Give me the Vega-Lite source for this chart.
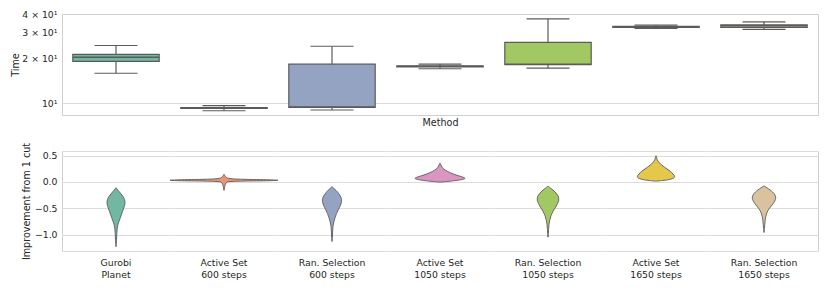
{
  "$schema": "https://vega.github.io/schema/vega-lite/v6.json",
  "padding": {"left": 10, "top": 9, "right": 5, "bottom": 5},
  "config": {
    "font": "DejaVu Sans",
    "view": {"stroke": null},
    "axis": {"labelFont": "DejaVu Sans", "titleFont": "DejaVu Sans", "labelFontSize": 9.3, "titleFontSize": 9.6, "labelColor": "#262626", "titleColor": "#262626", "titleFontWeight": "normal", "ticks": false, "gridColor": "#dcdcdc", "domainColor": "#d0d0d0"},
    "header": {"labelFont": "DejaVu Sans", "labelFontSize": 9.3, "labelColor": "#262626"}
  },
  "datasets": {
    "boxes": [
      {"method": "Gurobi\nPlanet", "lo": 15.9, "q1": 19.1, "med": 20.4, "q3": 21.3, "hi": 24.5},
      {"method": "Active Set\n600 steps", "lo": 8.87, "q1": 9.19, "med": 9.25, "q3": 9.32, "hi": 9.59},
      {"method": "Ran. Selection\n600 steps", "lo": 8.97, "q1": 9.35, "med": 9.4, "q3": 18.3, "hi": 24.2},
      {"method": "Active Set\n1050 steps", "lo": 17.05, "q1": 17.56, "med": 17.7, "q3": 17.84, "hi": 18.35},
      {"method": "Ran. Selection\n1050 steps", "lo": 17.2, "q1": 18.2, "med": 18.3, "q3": 25.7, "hi": 37.1},
      {"method": "Active Set\n1650 steps", "lo": 31.97, "q1": 32.5, "med": 32.8, "q3": 33.04, "hi": 33.65},
      {"method": "Ran. Selection\n1650 steps", "lo": 31.5, "q1": 32.5, "med": 33.3, "q3": 33.8, "hi": 35.4}
    ],
    "violins": [
      {"method": "Gurobi\nPlanet", "v": -1.23, "w": 0},
      {"method": "Gurobi\nPlanet", "v": -1.10, "w": 0.5},
      {"method": "Gurobi\nPlanet", "v": -0.98, "w": 0.8},
      {"method": "Gurobi\nPlanet", "v": -0.88, "w": 1.2},
      {"method": "Gurobi\nPlanet", "v": -0.80, "w": 2},
      {"method": "Gurobi\nPlanet", "v": -0.72, "w": 3.5},
      {"method": "Gurobi\nPlanet", "v": -0.64, "w": 5},
      {"method": "Gurobi\nPlanet", "v": -0.56, "w": 6.5},
      {"method": "Gurobi\nPlanet", "v": -0.48, "w": 8},
      {"method": "Gurobi\nPlanet", "v": -0.41, "w": 9},
      {"method": "Gurobi\nPlanet", "v": -0.33, "w": 8.5},
      {"method": "Gurobi\nPlanet", "v": -0.25, "w": 6},
      {"method": "Gurobi\nPlanet", "v": -0.18, "w": 3},
      {"method": "Gurobi\nPlanet", "v": -0.11, "w": 0},

      {"method": "Active Set\n600 steps", "v": -0.16, "w": 0},
      {"method": "Active Set\n600 steps", "v": -0.09, "w": 0.75},
      {"method": "Active Set\n600 steps", "v": -0.05, "w": 1.25},
      {"method": "Active Set\n600 steps", "v": -0.02, "w": 2},
      {"method": "Active Set\n600 steps", "v": 0.0, "w": 3.5},
      {"method": "Active Set\n600 steps", "v": 0.008, "w": 7},
      {"method": "Active Set\n600 steps", "v": 0.016, "w": 20},
      {"method": "Active Set\n600 steps", "v": 0.024, "w": 45},
      {"method": "Active Set\n600 steps", "v": 0.032, "w": 54},
      {"method": "Active Set\n600 steps", "v": 0.04, "w": 45},
      {"method": "Active Set\n600 steps", "v": 0.05, "w": 20},
      {"method": "Active Set\n600 steps", "v": 0.06, "w": 8},
      {"method": "Active Set\n600 steps", "v": 0.07, "w": 4.5},
      {"method": "Active Set\n600 steps", "v": 0.085, "w": 2.5},
      {"method": "Active Set\n600 steps", "v": 0.10, "w": 1.5},
      {"method": "Active Set\n600 steps", "v": 0.12, "w": 0.75},
      {"method": "Active Set\n600 steps", "v": 0.145, "w": 0},

      {"method": "Ran. Selection\n600 steps", "v": -1.13, "w": 0},
      {"method": "Ran. Selection\n600 steps", "v": -1.05, "w": 0.4},
      {"method": "Ran. Selection\n600 steps", "v": -0.95, "w": 0.6},
      {"method": "Ran. Selection\n600 steps", "v": -0.84, "w": 1},
      {"method": "Ran. Selection\n600 steps", "v": -0.76, "w": 1.8},
      {"method": "Ran. Selection\n600 steps", "v": -0.68, "w": 3},
      {"method": "Ran. Selection\n600 steps", "v": -0.60, "w": 4.5},
      {"method": "Ran. Selection\n600 steps", "v": -0.52, "w": 6.5},
      {"method": "Ran. Selection\n600 steps", "v": -0.44, "w": 8.5},
      {"method": "Ran. Selection\n600 steps", "v": -0.37, "w": 9.5},
      {"method": "Ran. Selection\n600 steps", "v": -0.31, "w": 9.3},
      {"method": "Ran. Selection\n600 steps", "v": -0.24, "w": 7.5},
      {"method": "Ran. Selection\n600 steps", "v": -0.16, "w": 4},
      {"method": "Ran. Selection\n600 steps", "v": -0.09, "w": 0},

      {"method": "Active Set\n1050 steps", "v": -0.005, "w": 0},
      {"method": "Active Set\n1050 steps", "v": 0.01, "w": 8},
      {"method": "Active Set\n1050 steps", "v": 0.03, "w": 17},
      {"method": "Active Set\n1050 steps", "v": 0.05, "w": 23},
      {"method": "Active Set\n1050 steps", "v": 0.07, "w": 25},
      {"method": "Active Set\n1050 steps", "v": 0.09, "w": 23},
      {"method": "Active Set\n1050 steps", "v": 0.12, "w": 18},
      {"method": "Active Set\n1050 steps", "v": 0.16, "w": 12},
      {"method": "Active Set\n1050 steps", "v": 0.20, "w": 7.5},
      {"method": "Active Set\n1050 steps", "v": 0.24, "w": 4},
      {"method": "Active Set\n1050 steps", "v": 0.28, "w": 2},
      {"method": "Active Set\n1050 steps", "v": 0.32, "w": 1},
      {"method": "Active Set\n1050 steps", "v": 0.36, "w": 0},

      {"method": "Ran. Selection\n1050 steps", "v": -1.05, "w": 0},
      {"method": "Ran. Selection\n1050 steps", "v": -0.98, "w": 0.4},
      {"method": "Ran. Selection\n1050 steps", "v": -0.90, "w": 0.6},
      {"method": "Ran. Selection\n1050 steps", "v": -0.80, "w": 1},
      {"method": "Ran. Selection\n1050 steps", "v": -0.72, "w": 1.8},
      {"method": "Ran. Selection\n1050 steps", "v": -0.64, "w": 3},
      {"method": "Ran. Selection\n1050 steps", "v": -0.56, "w": 5},
      {"method": "Ran. Selection\n1050 steps", "v": -0.48, "w": 7.5},
      {"method": "Ran. Selection\n1050 steps", "v": -0.41, "w": 9.5},
      {"method": "Ran. Selection\n1050 steps", "v": -0.345, "w": 10.7},
      {"method": "Ran. Selection\n1050 steps", "v": -0.28, "w": 10.3},
      {"method": "Ran. Selection\n1050 steps", "v": -0.21, "w": 8},
      {"method": "Ran. Selection\n1050 steps", "v": -0.14, "w": 4},
      {"method": "Ran. Selection\n1050 steps", "v": -0.08, "w": 0},

      {"method": "Active Set\n1650 steps", "v": 0.015, "w": 0},
      {"method": "Active Set\n1650 steps", "v": 0.03, "w": 8},
      {"method": "Active Set\n1650 steps", "v": 0.05, "w": 14},
      {"method": "Active Set\n1650 steps", "v": 0.08, "w": 18},
      {"method": "Active Set\n1650 steps", "v": 0.11, "w": 18.7},
      {"method": "Active Set\n1650 steps", "v": 0.14, "w": 17.5},
      {"method": "Active Set\n1650 steps", "v": 0.18, "w": 15.5},
      {"method": "Active Set\n1650 steps", "v": 0.22, "w": 13},
      {"method": "Active Set\n1650 steps", "v": 0.26, "w": 10},
      {"method": "Active Set\n1650 steps", "v": 0.30, "w": 7},
      {"method": "Active Set\n1650 steps", "v": 0.34, "w": 4.5},
      {"method": "Active Set\n1650 steps", "v": 0.38, "w": 2.5},
      {"method": "Active Set\n1650 steps", "v": 0.42, "w": 1.2},
      {"method": "Active Set\n1650 steps", "v": 0.46, "w": 0.6},
      {"method": "Active Set\n1650 steps", "v": 0.50, "w": 0},

      {"method": "Ran. Selection\n1650 steps", "v": -0.96, "w": 0},
      {"method": "Ran. Selection\n1650 steps", "v": -0.88, "w": 0.5},
      {"method": "Ran. Selection\n1650 steps", "v": -0.80, "w": 0.8},
      {"method": "Ran. Selection\n1650 steps", "v": -0.72, "w": 1.2},
      {"method": "Ran. Selection\n1650 steps", "v": -0.65, "w": 1.8},
      {"method": "Ran. Selection\n1650 steps", "v": -0.58, "w": 3},
      {"method": "Ran. Selection\n1650 steps", "v": -0.51, "w": 5},
      {"method": "Ran. Selection\n1650 steps", "v": -0.44, "w": 8},
      {"method": "Ran. Selection\n1650 steps", "v": -0.37, "w": 10.5},
      {"method": "Ran. Selection\n1650 steps", "v": -0.31, "w": 11.7},
      {"method": "Ran. Selection\n1650 steps", "v": -0.25, "w": 11},
      {"method": "Ran. Selection\n1650 steps", "v": -0.19, "w": 8.5},
      {"method": "Ran. Selection\n1650 steps", "v": -0.13, "w": 4.5},
      {"method": "Ran. Selection\n1650 steps", "v": -0.075, "w": 0}
    ]
  },
  "bounds": "flush",
  "spacing": 36,
  "vconcat": [
    {
      "width": 756,
      "height": 101,
      "view": {"stroke": "#d0d0d0"},
      "data": {"name": "boxes"},
      "encoding": {
        "x": {"field": "method", "type": "nominal", "sort": null, "scale": {"paddingInner": 0, "paddingOuter": 0}, "axis": {"labels": false, "domain": false, "grid": false, "title": "Method", "titlePadding": 2}}
      },
      "layer": [
        {
          "mark": {"type": "rule", "color": "#5b5b5b", "strokeWidth": 1.2},
          "encoding": {
            "y": {"field": "lo", "type": "quantitative", "title": "Time", "scale": {"type": "log", "domain": [8.3, 40], "nice": false, "zero": false},
              "axis": {"values": [10, 20, 30, 40], "labelExpr": "datum.value == 10 ? '10¹' : format(datum.value/10, 'd') + ' × 10¹'", "grid": true, "gridOpacity": {"condition": {"test": "datum.value == 10", "value": 1}, "value": 0}, "domain": false, "labelPadding": 5, "titlePadding": 1}},
            "y2": {"field": "hi"}
          }
        },
        {
          "mark": {"type": "bar", "width": {"band": 0.8}, "stroke": "#5b5b5b", "strokeWidth": 1.2},
          "encoding": {
            "y": {"field": "q1", "type": "quantitative", "title": "Time"},
            "y2": {"field": "q3"},
            "fill": {"field": "method", "type": "nominal", "legend": null, "scale": {"domain": ["Gurobi\nPlanet", "Active Set\n600 steps", "Ran. Selection\n600 steps", "Active Set\n1050 steps", "Ran. Selection\n1050 steps", "Active Set\n1650 steps", "Ran. Selection\n1650 steps"], "range": ["#71b7a1", "#e99675", "#95a3c3", "#db96c0", "#a2c864", "#e5c849", "#dbc29e"]}}
          }
        },
        {
          "mark": {"type": "tick", "size": 86, "thickness": 1.3, "color": "#5b5b5b", "opacity": 1},
          "encoding": {"y": {"field": "med", "type": "quantitative", "title": "Time"}}
        },
        {
          "mark": {"type": "tick", "size": 43, "thickness": 1.2, "color": "#5b5b5b", "opacity": 1},
          "encoding": {"y": {"field": "lo", "type": "quantitative", "title": "Time"}}
        },
        {
          "mark": {"type": "tick", "size": 43, "thickness": 1.2, "color": "#5b5b5b", "opacity": 1},
          "encoding": {"y": {"field": "hi", "type": "quantitative", "title": "Time"}}
        }
      ]
    },
    {
      "data": {"name": "violins"},
      "spacing": 0,
      "bounds": "flush",
      "facet": {
        "column": {"field": "method", "type": "nominal", "title": null,
          "sort": ["Gurobi\nPlanet", "Active Set\n600 steps", "Ran. Selection\n600 steps", "Active Set\n1050 steps", "Ran. Selection\n1050 steps", "Active Set\n1650 steps", "Ran. Selection\n1650 steps"],
          "header": {"labelOrient": "bottom", "labelExpr": "split(datum.value, '\\n')", "labelPadding": 8, "labelBaseline": "top", "labelLineHeight": 12, "labelFontSize": 9.3, "labelColor": "#262626"}}
      },
      "spec": {
        "width": 108,
        "height": 100,
        "layer": [
          {
            "mark": {"type": "area", "orient": "horizontal", "interpolate": "catmull-rom"},
            "encoding": {
              "y": {"field": "v", "type": "quantitative", "title": "Improvement from 1 cut", "scale": {"domain": [-1.31, 0.587], "nice": false, "zero": false},
                "axis": {"values": [0.587, 0.5, 0, -0.5, -1, -1.31], "labelExpr": "(datum.value > 0.55 || datum.value < -1.2) ? '' : format(datum.value, '.1f')", "grid": true, "domain": true, "labelPadding": 5, "titlePadding": 3}},
              "x": {"field": "w", "type": "quantitative", "stack": null, "scale": {"domain": [-54, 54]}, "axis": null},
              "fill": {"field": "method", "type": "nominal", "legend": null, "scale": {"domain": ["Gurobi\nPlanet", "Active Set\n600 steps", "Ran. Selection\n600 steps", "Active Set\n1050 steps", "Ran. Selection\n1050 steps", "Active Set\n1650 steps", "Ran. Selection\n1650 steps"], "range": ["#71b7a1", "#e99675", "#95a3c3", "#db96c0", "#a2c864", "#e5c849", "#dbc29e"]}}
            }
          },
          {
            "mark": {"type": "area", "orient": "horizontal", "interpolate": "catmull-rom"},
            "encoding": {
              "y": {"field": "v", "type": "quantitative", "axis": null},
              "x": {"field": "w", "type": "quantitative", "stack": null, "scale": {"domain": [-54, 54], "reverse": true}, "axis": null},
              "fill": {"field": "method", "type": "nominal", "legend": null}
            }
          },
          {
            "mark": {"type": "line", "interpolate": "catmull-rom", "stroke": "#5b5b5b", "strokeWidth": 0.9},
            "encoding": {
              "y": {"field": "v", "type": "quantitative", "axis": null},
              "x": {"field": "w", "type": "quantitative", "scale": {"domain": [-54, 54]}, "axis": null},
              "order": {"field": "v", "type": "quantitative"}
            }
          },
          {
            "mark": {"type": "line", "interpolate": "catmull-rom", "stroke": "#5b5b5b", "strokeWidth": 0.9},
            "encoding": {
              "y": {"field": "v", "type": "quantitative", "axis": null},
              "x": {"field": "w", "type": "quantitative", "scale": {"domain": [-54, 54], "reverse": true}, "axis": null},
              "order": {"field": "v", "type": "quantitative"}
            }
          },
          {
            "mark": {"type": "line", "opacity": 0},
            "encoding": {
              "x": {"field": "w", "type": "quantitative", "scale": {"domain": [-54, 54]}, "axis": null},
              "y": {"field": "v", "type": "quantitative", "axis": {"orient": "right", "values": [], "labels": false, "ticks": false, "grid": false, "domain": true, "title": null}},
              "order": {"field": "v", "type": "quantitative"}
            }
          }
        ],
        "resolve": {"scale": {"x": "independent"}, "axis": {"y": "independent"}}
      }
    }
  ]
}
